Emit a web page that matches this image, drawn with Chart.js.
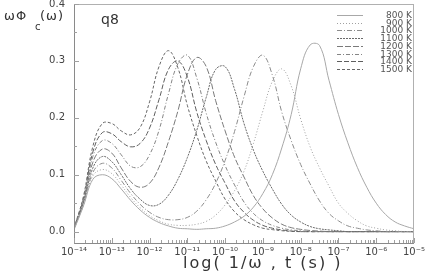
<!DOCTYPE html>
<html>
<head>
<meta charset="utf-8">
<script src="https://cdn.jsdelivr.net/npm/chart.js"></script>
<style>
html, body { margin: 0; padding: 0; background: #fff; }
#wrap { width: 436px; height: 273px; }
</style>
</head>
<body>
<div id="wrap"><canvas id="relax"></canvas></div>
<script>
// log10 of 1/w or t (s)
var logT = [-14, -13.75, -13.5, -13.25, -13, -12.75, -12.5, -12.25, -12, -11.75, -11.5, -11.25,
   -11, -10.75, -10.5, -10.25, -10, -9.75, -9.5, -9.25, -9, -8.75, -8.5, -8.25,
   -8, -7.75, -7.5, -7.25, -7, -6.75, -6.5, -6.25, -6, -5.75, -5.5, -5.25, -5];

var temps = ['800 K', '900 K', '1000 K', '1100 K', '1200 K', '1300 K', '1400 K', '1500 K'];

var v800 = [0.003, 0.045, 0.092, 0.100, 0.093, 0.075, 0.055, 0.038, 0.025, 0.016, 0.010, 0.006,
   0.005, 0.004, 0.005, 0.006, 0.010, 0.017, 0.027, 0.043, 0.067, 0.100, 0.147, 0.206,
   0.286, 0.328, 0.327, 0.266, 0.206, 0.156, 0.113, 0.078, 0.050, 0.030, 0.017, 0.010, 0.005];
var v900 = [0.004, 0.047, 0.098, 0.109, 0.102, 0.082, 0.060, 0.042, 0.028, 0.019, 0.013, 0.011,
   0.011, 0.013, 0.018, 0.029, 0.047, 0.072, 0.106, 0.155, 0.212, 0.264, 0.286, 0.256,
   0.198, 0.149, 0.112, 0.080, 0.050, 0.032, 0.019, 0.010, 0.006, 0.003, 0.0015, 0, 0];
var v1000 = [0.005, 0.048, 0.104, 0.120, 0.112, 0.090, 0.067, 0.048, 0.034, 0.025, 0.021, 0.021,
   0.025, 0.036, 0.056, 0.085, 0.125, 0.176, 0.237, 0.290, 0.310, 0.275, 0.210, 0.160,
   0.118, 0.084, 0.054, 0.032, 0.019, 0.010, 0.006, 0.003, 0.0015, 0, 0, 0, 0];
var v1100 = [0.005, 0.050, 0.112, 0.132, 0.123, 0.100, 0.075, 0.057, 0.046, 0.048, 0.064, 0.092,
   0.130, 0.178, 0.236, 0.285, 0.290, 0.250, 0.190, 0.143, 0.106, 0.075, 0.048, 0.029,
   0.017, 0.009, 0.005, 0.003, 0.0015, 0, 0, 0, 0, 0, 0, 0, 0];
var v1200 = [0.005, 0.052, 0.122, 0.145, 0.138, 0.112, 0.088, 0.078, 0.085, 0.113, 0.158, 0.212,
   0.276, 0.306, 0.290, 0.230, 0.177, 0.131, 0.096, 0.063, 0.040, 0.024, 0.013, 0.007,
   0.004, 0.002, 0.001, 0, 0, 0, 0, 0, 0, 0, 0, 0, 0];
var v1300 = [0.005, 0.055, 0.132, 0.160, 0.155, 0.135, 0.115, 0.114, 0.135, 0.178, 0.242, 0.295,
   0.310, 0.270, 0.208, 0.157, 0.116, 0.082, 0.052, 0.032, 0.019, 0.011, 0.006, 0.003,
   0.0015, 0, 0, 0, 0, 0, 0, 0, 0, 0, 0, 0, 0];
var v1400 = [0.006, 0.058, 0.140, 0.174, 0.172, 0.158, 0.149, 0.155, 0.182, 0.232, 0.285, 0.300,
   0.272, 0.210, 0.160, 0.118, 0.085, 0.054, 0.034, 0.020, 0.011, 0.006, 0.003, 0.001,
   0, 0, 0, 0, 0, 0, 0, 0, 0, 0, 0, 0, 0];
var v1500 = [0.006, 0.062, 0.150, 0.190, 0.190, 0.177, 0.170, 0.183, 0.228, 0.290, 0.318, 0.288,
   0.222, 0.169, 0.124, 0.089, 0.057, 0.035, 0.021, 0.012, 0.006, 0.0035, 0.0016, 0.0005,
   0, 0, 0, 0, 0, 0, 0, 0, 0, 0, 0, 0, 0];

var decades = [-14, -13, -12, -11, -10, -9, -8, -7, -6, -5];
var yTicks = [0, 0.1, 0.2, 0.3, 0.4];

var series = [v800, v900, v1000, v1100, v1200, v1300, v1400, v1500];
var lineColors = ['#a8a8a8', '#a0a0a0', '#8c8c8c', '#6a6a6a', '#7a7a7a', '#858585', '#5e5e5e', '#666666'];
var lineDash = [[], [1, 2], [5, 2, 1, 2], [2, 1], [6, 2], [4, 2, 1, 2], [5, 2], [3, 2]];

var sup = { '-': '\u207b', '0': '\u2070', '1': '\u00b9', '2': '\u00b2', '3': '\u00b3', '4': '\u2074',
   '5': '\u2075', '6': '\u2076', '7': '\u2077', '8': '\u2078', '9': '\u2079' };
function pow10(v) {
   return '10' + String(v).split('').map(function (c) { return sup[c]; }).join('');
}

var datasets = series.map(function (vals, i) {
   return {
      label: temps[i],
      data: vals.map(function (y, j) { return { x: logT[j], y: y }; }),
      borderColor: lineColors[i],
      borderDash: lineDash[i],
      borderWidth: 1,
      pointRadius: 0,
      tension: 0.4,
      fill: false,
   };
});

// frame, inward ticks, titles and legend
var decor = {
   id: 'decor',
   afterDraw: function (chart) {
      var ctx = chart.ctx, a = chart.chartArea;
      var xs = chart.scales.x, ys = chart.scales.y;
      ctx.save();
      ctx.lineWidth = 1;
      ctx.setLineDash([]);
      ctx.strokeStyle = '#b0b0b0';
      ctx.strokeRect(a.left + 0.5, a.top + 0.5, a.right - a.left - 1, a.bottom - a.top);
      ctx.strokeStyle = '#8a8a8a';
      ctx.beginPath();
      ctx.moveTo(a.left + 0.5, a.top);
      ctx.lineTo(a.left + 0.5, a.bottom + 0.5);
      ctx.lineTo(a.right, a.bottom + 0.5);
      ctx.stroke();

      ctx.strokeStyle = '#a0a0a0';
      ctx.beginPath();
      for (var k = 0; k <= 8; k++) {
         var py = Math.round(ys.getPixelForValue(k * 0.05)) + 0.5;
         var len = k % 2 === 0 ? 5 : 3;
         ctx.moveTo(a.left, py);
         ctx.lineTo(a.left + len, py);
      }
      decades.forEach(function (d) {
         var px = Math.round(xs.getPixelForValue(d)) + 0.5;
         ctx.moveTo(px, a.bottom);
         ctx.lineTo(px, a.bottom - 5);
         if (d < -5) {
            for (var m = 2; m <= 9; m++) {
               var pm = Math.round(xs.getPixelForValue(d + Math.log10(m))) + 0.5;
               ctx.moveTo(pm, a.bottom);
               ctx.lineTo(pm, a.bottom - 3);
            }
         }
      });
      ctx.stroke();

      // axis titles
      ctx.fillStyle = '#333';
      ctx.textBaseline = 'alphabetic';
      ctx.textAlign = 'left';
      ctx.font = '13px "DejaVu Sans"';
      ctx.letterSpacing = '1px';
      ctx.fillText('\u03c9\u03a6', 4, 20);
      ctx.fillText('(\u03c9)', 40, 20);
      ctx.letterSpacing = '0px';
      ctx.font = '10px "DejaVu Sans"';
      ctx.fillText('c', 35, 30);
      ctx.font = '14px "DejaVu Sans"';
      ctx.fillText('q8', 101, 24);
      ctx.font = '16px "DejaVu Sans"';
      ctx.letterSpacing = '2px';
      ctx.fillText('log( 1/\u03c9 , t (s) )', 183, 268);
      ctx.letterSpacing = '0px';

      // legend
      ctx.font = '9px "DejaVu Sans"';
      ctx.textAlign = 'right';
      ctx.textBaseline = 'middle';
      chart.data.datasets.forEach(function (ds, i) {
         var ry = Math.round(15 + i * 7.7) + 0.5;
         ctx.strokeStyle = ds.borderColor;
         ctx.setLineDash(ds.borderDash);
         ctx.beginPath();
         ctx.moveTo(337, ry);
         ctx.lineTo(363, ry);
         ctx.stroke();
         ctx.fillStyle = '#555';
         ctx.fillText(ds.label, 412, ry);
      });
      ctx.restore();
   },
};

new Chart('relax', {
   type: 'line',
   data: { datasets: datasets },
   options: {
      responsive: true,
      maintainAspectRatio: false,
      animation: false,
      layout: { padding: { left: 0, right: 22, top: 4, bottom: 0 } },
      plugins: { legend: { display: false }, tooltip: { enabled: false } },
      scales: {
         x: {
            type: 'linear',
            min: -14,
            max: -5,
            afterBuildTicks: function (s) { s.ticks = decades.map(function (v) { return { value: v }; }); },
            afterFit: function (s) { s.height = 30; s.paddingLeft = 0; s.paddingRight = 0; },
            grid: { display: false, drawTicks: false },
            border: { display: false },
            ticks: {
               autoSkip: false,
               maxRotation: 0,
               padding: 3,
               color: '#444',
               font: { family: 'DejaVu Sans', size: 10 },
               callback: function (v) { return pow10(v); },
            },
         },
         y: {
            min: -0.02,
            max: 0.4,
            afterBuildTicks: function (s) { s.ticks = yTicks.map(function (v) { return { value: v }; }); },
            afterFit: function (s) { s.width = 74; s.paddingTop = 0; s.paddingBottom = 0; },
            grid: { display: false, drawTicks: false },
            border: { display: false },
            ticks: {
               padding: 9,
               color: '#444',
               font: { family: 'DejaVu Sans', size: 10 },
               callback: function (v) { return v.toFixed(1); },
            },
         },
      },
   },
   plugins: [decor],
});
</script>
</body>
</html>
